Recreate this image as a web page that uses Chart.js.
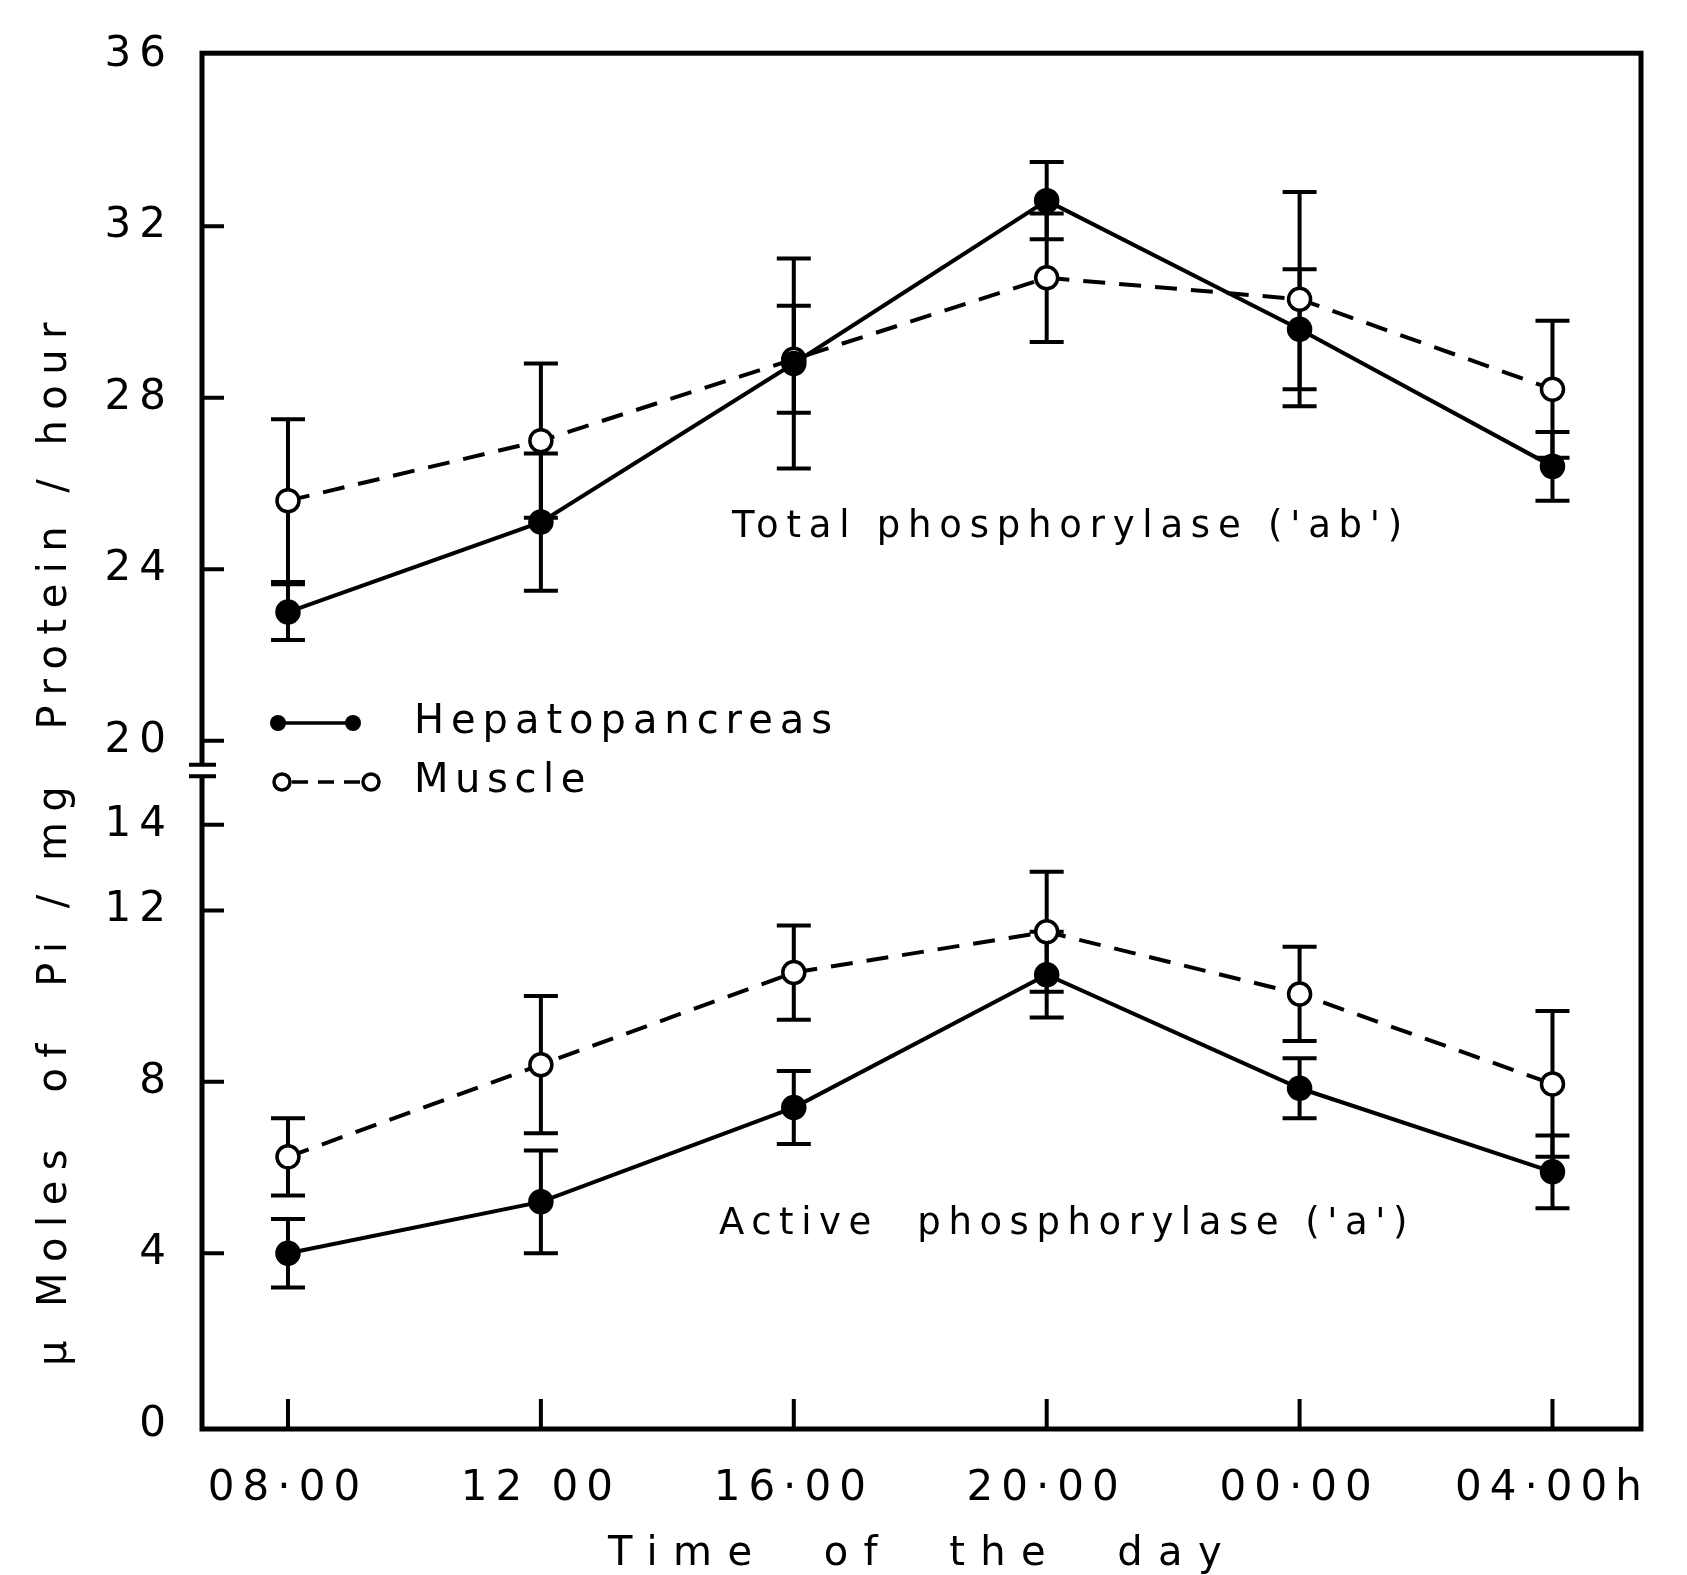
<!DOCTYPE html>
<html>
<head>
<meta charset="utf-8">
<script src="https://cdn.jsdelivr.net/npm/chart.js@4.4.1/dist/chart.umd.min.js"></script>
<style>
  html, body { margin: 0; padding: 0; background: #fff; }
  #wrap { width: 1687px; height: 1575px; }
</style>
</head>
<body>
<div id="wrap"><canvas id="chart" width="1687" height="1575"></canvas></div>
<script>
// time of the day (x categories)
const TIMES = ["08·00", "12 00", "16·00", "20·00", "00·00", "04·00h"];

// total phosphorylase ('ab'), upper panel
const HEP_TOTAL      = [23.0, 25.1, 28.8, 32.6, 29.6, 26.4];
const HEP_TOTAL_ERR  = [0.65, 1.6, 2.45, 0.9, 1.4, 0.8];
const MUS_TOTAL      = [25.6, 27.0, 28.9, 30.8, 30.3, 28.2];
const MUS_TOTAL_ERR  = [1.9, 1.8, 1.25, 1.5, 2.5, 1.6];

// active phosphorylase ('a'), lower panel
const HEP_ACTIVE     = [4.0, 5.2, 7.4, 10.5, 7.85, 5.9];
const HEP_ACTIVE_ERR = [0.8, 1.2, 0.85, 1.0, 0.7, 0.85];
const MUS_ACTIVE     = [6.25, 8.4, 10.55, 11.5, 10.05, 7.95];
const MUS_ACTIVE_ERR = [0.9, 1.6, 1.1, 1.4, 1.1, 1.7];

const Y_TICKS = [0, 4, 8, 12, 14, 20, 24, 28, 32, 36];

// broken y axis: 14 .. 20 squeezed into a short gap
const BREAK_LOW = 14, BREAK_HIGH = 20, BREAK_GAP = 1.96;
const SHIFT = BREAK_HIGH - BREAK_LOW - BREAK_GAP;
const toAxis = v => (v > BREAK_LOW ? v - SHIFT : v);
const fromAxis = a => (a > BREAK_LOW + BREAK_GAP / 2 ? a + SHIFT : a);

const FONT = '"DejaVu Sans", sans-serif';
const INK = "#000";

function points(values) {
  return values.map((v, i) => ({ x: i, y: toAxis(v) }));
}

function series(label, values, errors, muscle) {
  return {
    label,
    data: points(values),
    errors,
    rawValues: values,
    borderColor: INK,
    borderWidth: 4,
    borderDash: muscle ? [22, 14] : [],
    backgroundColor: muscle ? "#fff" : INK,
    pointBackgroundColor: muscle ? "#fff" : INK,
    pointBorderColor: INK,
    pointBorderWidth: 3.5,
    pointRadius: 11,
    tension: 0,
    fill: false,
  };
}

function spacedText(ctx, text, x, y, size, width, rot) {
  ctx.save();
  ctx.font = `${size}px ${FONT}`;
  ctx.letterSpacing = "0px";
  const w = ctx.measureText(text).width;
  ctx.letterSpacing = ((width - w) / text.length) + "px";
  ctx.translate(x, y);
  ctx.rotate(rot || 0);
  ctx.textAlign = "left";
  ctx.textBaseline = "middle";
  ctx.fillStyle = INK;
  ctx.fillText(text, 0, 0);
  ctx.restore();
}

const decor = {
  id: "decor",
  beforeDraw(chart) {
    chart.ctx.letterSpacing = "8px";
  },
  beforeDatasetsDraw(chart) {
    const { ctx, scales: { x, y } } = chart;
    ctx.save();
    ctx.strokeStyle = INK;
    ctx.lineWidth = 4;
    ctx.setLineDash([]);
    chart.data.datasets.forEach(ds => {
      ds.rawValues.forEach((v, i) => {
        const px = x.getPixelForValue(i);
        const top = y.getPixelForValue(toAxis(v + ds.errors[i]));
        const bot = y.getPixelForValue(toAxis(v - ds.errors[i]));
        ctx.beginPath();
        ctx.moveTo(px, top); ctx.lineTo(px, bot);
        ctx.moveTo(px - 17, top); ctx.lineTo(px + 17, top);
        ctx.moveTo(px - 17, bot); ctx.lineTo(px + 17, bot);
        ctx.stroke();
      });
    });
    ctx.restore();
  },
  afterDraw(chart) {
    const { ctx, chartArea: a, scales: { x, y } } = chart;
    ctx.save();
    ctx.letterSpacing = "0px";
    ctx.strokeStyle = INK;
    ctx.setLineDash([]);

    // frame
    ctx.lineWidth = 5;
    ctx.strokeRect(a.left, a.top, a.right - a.left, a.bottom - a.top);

    // inward tick marks
    ctx.lineWidth = 4;
    ctx.beginPath();
    Y_TICKS.forEach(t => {
      if (t === 0 || t === 36) return;
      const py = y.getPixelForValue(toAxis(t));
      ctx.moveTo(a.left, py); ctx.lineTo(a.left + 22, py);
    });
    TIMES.forEach((_, i) => {
      const px = x.getPixelForValue(i);
      ctx.moveTo(px, a.bottom); ctx.lineTo(px, a.bottom - 30);
    });
    ctx.stroke();

    // axis break
    const b1 = y.getPixelForValue(15.4), b2 = y.getPixelForValue(15.13);
    ctx.fillStyle = "#fff";
    ctx.fillRect(a.left - 4, b1, 8, b2 - b1);
    ctx.beginPath();
    ctx.moveTo(a.left - 13, b1); ctx.lineTo(a.left + 14, b1);
    ctx.moveTo(a.left - 13, b2); ctx.lineTo(a.left + 14, b2);
    ctx.stroke();

    // legend
    ctx.lineWidth = 3.5;
    ctx.beginPath();
    ctx.moveTo(278, 723); ctx.lineTo(353, 723);
    ctx.stroke();
    ctx.fillStyle = INK;
    [278, 353].forEach(cx => { ctx.beginPath(); ctx.arc(cx, 723, 8, 0, Math.PI * 2); ctx.fill(); });
    ctx.setLineDash([16, 10]);
    ctx.beginPath();
    ctx.moveTo(292, 782); ctx.lineTo(362, 782);
    ctx.stroke();
    ctx.setLineDash([]);
    ctx.fillStyle = "#fff";
    [282, 371].forEach(cx => {
      ctx.beginPath(); ctx.arc(cx, 782, 8, 0, Math.PI * 2); ctx.fill(); ctx.stroke();
    });
    ctx.restore();

    spacedText(ctx, "Hepatopancreas", 414, 723, 40, 425);
    spacedText(ctx, "Muscle", 414, 782, 40, 178);

    // panel labels
    spacedText(ctx, "Total phosphorylase ('ab')", 732, 527, 37, 678);
    spacedText(ctx, "Active  phosphorylase ('a')", 719, 1224, 37, 696);

    // axis titles
    spacedText(ctx, "µ Moles  of  Pi / mg  Protein / hour", 56, 1366, 40, 1054, -Math.PI / 2);
    spacedText(ctx, "Time  of  the  day", 608, 1555, 40, 629);
  },
};

new Chart(document.getElementById("chart"), {
  type: "line",
  data: {
    datasets: [
      series("Hepatopancreas total", HEP_TOTAL, HEP_TOTAL_ERR, false),
      series("Muscle total", MUS_TOTAL, MUS_TOTAL_ERR, true),
      series("Hepatopancreas active", HEP_ACTIVE, HEP_ACTIVE_ERR, false),
      series("Muscle active", MUS_ACTIVE, MUS_ACTIVE_ERR, true),
    ],
  },
  options: {
    responsive: false,
    devicePixelRatio: 1,
    animation: false,
    layout: { padding: { left: 0, top: 52, right: 46, bottom: 0 } },
    plugins: { legend: { display: false }, tooltip: { enabled: false } },
    scales: {
      x: {
        type: "linear",
        min: -0.34,
        max: 5.35,
        afterBuildTicks: s => { s.ticks = TIMES.map((_, i) => ({ value: i })); },
        afterFit: s => { s.height = 146; },
        ticks: {
          autoSkip: false,
          maxRotation: 0,
          padding: 35,
          color: INK,
          font: { family: FONT, size: 42 },
          callback: v => TIMES[v],
        },
        grid: { display: false, drawTicks: false },
        border: { display: false },
      },
      y: {
        type: "linear",
        min: -0.1,
        max: 32,
        afterBuildTicks: s => { s.ticks = Y_TICKS.map(t => ({ value: toAxis(t) })); },
        afterFit: s => { s.width = 202; },
        ticks: {
          autoSkip: false,
          padding: 28,
          color: INK,
          font: { family: FONT, size: 42 },
          callback: v => String(Math.round(fromAxis(v))),
        },
        grid: { display: false, drawTicks: false },
        border: { display: false },
      },
    },
  },
  plugins: [decor],
});
</script>
</body>
</html>
